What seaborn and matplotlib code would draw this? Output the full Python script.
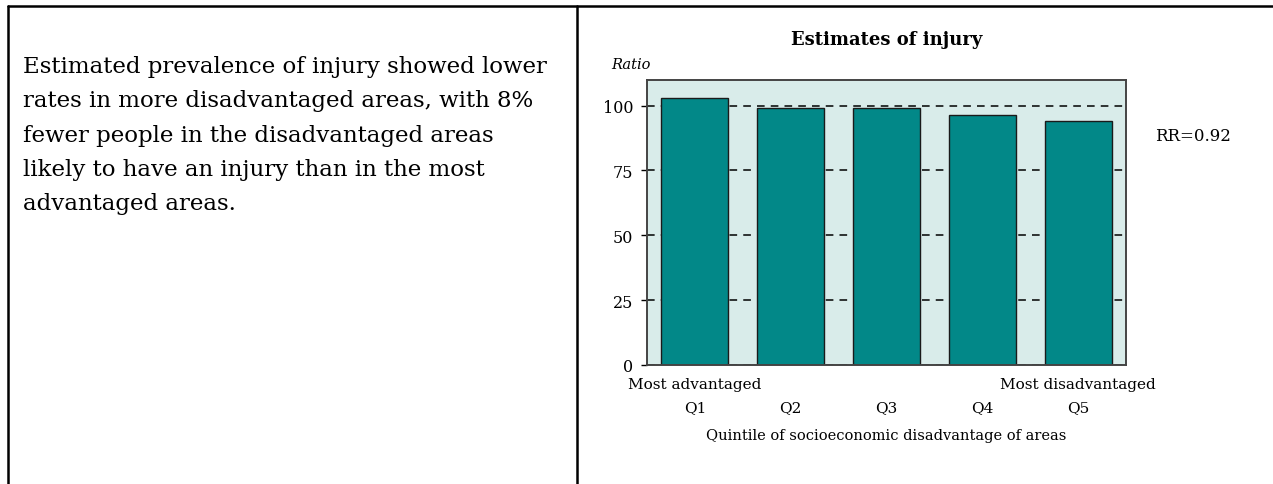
import matplotlib
matplotlib.use('Agg')
import matplotlib.pyplot as plt
import seaborn as sns
from matplotlib.lines import Line2D

# data
quintiles = ['Q1', 'Q2', 'Q3', 'Q4', 'Q5']
ratios = [103.1, 99.2, 99.2, 96.2, 94.1]
end_labels = ['Most advantaged', 'Most disadvantaged']
yticks = [0, 25, 50, 75, 100]
rr_text = 'RR=0.92'
summary = ['Estimated prevalence of injury showed lower',
           'rates in more disadvantaged areas, with 8%',
           'fewer people in the disadvantaged areas',
           'likely to have an injury than in the most',
           'advantaged areas.']

sns.set_style('white')
plt.rcParams['font.family'] = ['DejaVu Serif']
plt.rcParams.update({'text.color': 'black', 'axes.labelcolor': 'black',
                     'xtick.color': 'black', 'ytick.color': 'black'})

W, H = 1273, 485
fig = plt.figure(figsize=(W / 100, H / 100), dpi=100)
ax = fig.add_axes([647 / W, 1 - 366 / H, (1126 - 647) / W, (366 - 80.7) / H])
ax.set_facecolor('#d9ecea')

sns.barplot(x=quintiles, y=ratios, color='#028888', saturation=1, width=0.7,
            edgecolor='#1a1a1a', linewidth=1.0, ax=ax)

ax.set_ylim(0, 110)
ax.set_xlim(-0.5, 4.5)
ax.set_yticks(yticks)
ax.yaxis.grid(True, linestyle=(0, (5, 4)), color='black', linewidth=1.1)
ax.set_axisbelow(True)
for s in ax.spines.values():
    s.set_color('#444444')
    s.set_linewidth(1.4)
ax.tick_params(axis='y', length=4, width=1, labelsize=11.5, pad=6, direction='out', left=True)
ax.tick_params(axis='x', length=0, labelsize=11, pad=25)
ax.set_ylabel('')
ax.set_xlabel('Quintile of socioeconomic disadvantage of areas', fontsize=10.5, labelpad=10)
ax.set_title('Estimates of injury', fontsize=13, fontweight='bold', pad=26)

ax.text(-0.075, 1.055, 'Ratio', transform=ax.transAxes, fontsize=10.5,
        style='italic', ha='left', va='center')
ax.text(1.06, 0.806, rr_text, transform=ax.transAxes, fontsize=12,
        ha='left', va='center')
for i, lab in zip([0, len(quintiles) - 1], end_labels):
    ax.text(i, -0.066, lab, transform=ax.get_xaxis_transform(), fontsize=11,
            ha='center', va='center')

# summary text on the left panel
for i, line in enumerate(summary):
    fig.text(23 / W, 1 - (73.3 + 34.2 * i) / H, line, fontsize=16.5,
             ha='left', va='baseline')

# outer frame lines
fig.add_artist(Line2D([8 / W, 1], [1 - 7 / H, 1 - 7 / H], color='black', lw=1.8))
fig.add_artist(Line2D([8 / W, 8 / W], [0, 1 - 7 / H], color='black', lw=1.8))
fig.add_artist(Line2D([577 / W, 577 / W], [0, 1 - 7 / H], color='black', lw=1.8))

fig.savefig('out.png', dpi=100)
